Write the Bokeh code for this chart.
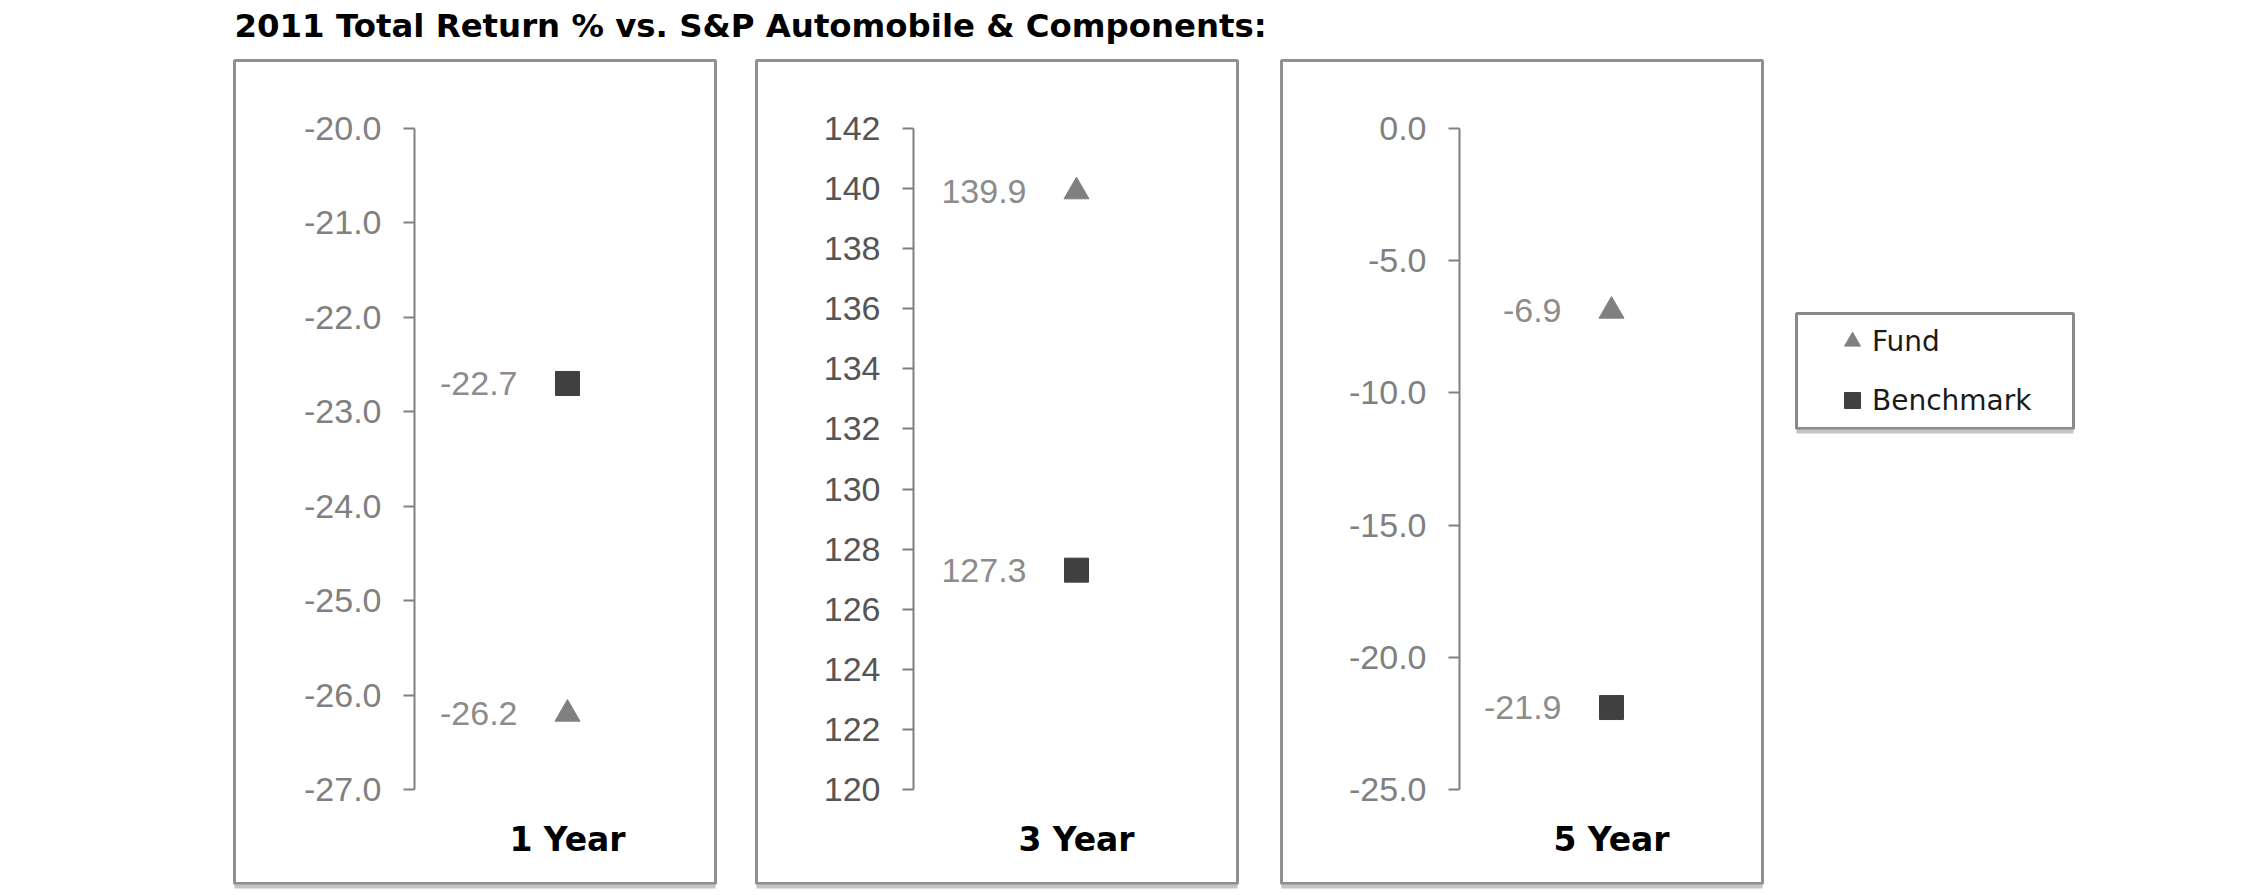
from bokeh.plotting import figure
from bokeh.models import (Range1d, LinearAxis, FixedTicker, NumeralTickFormatter,
                          ColumnDataSource, Legend, LegendItem, Label)
from bokeh.core.properties import value
from bokeh.embed import file_html
from bokeh.resources import INLINE

# ---------------- data ----------------
periods = ["1 Year", "3 Year", "5 Year"]
fund = [-26.2, 139.9, -6.9]
benchmark = [-22.7, 127.3, -21.9]
axis_min = [-27.0, 120.0, -25.0]
axis_max = [-20.0, 142.0, 0.0]
ticks_1y = [-27.0, -26.0, -25.0, -24.0, -23.0, -22.0, -21.0, -20.0]
ticks_3y = [120, 122, 124, 126, 128, 130, 132, 134, 136, 138, 140, 142]
ticks_5y = [-25.0, -20.0, -15.0, -10.0, -5.0, 0.0]
tick_formats = ["0.0", "0", "0.0"]
title_text = "2011 Total Return % vs. S&P Automobile & Components:"
legend_labels = ["Fund", "Benchmark"]

# ---------------- layout (canvas pixels) ----------------
W, H = 2242, 893
box_left = [234, 756, 1281]
box_right = [715, 1237, 1762]
box_top, box_bottom = 60, 883
axis_x = [414, 913, 1459]
slot_x = [567, 1076, 1611]
plot_top, plot_bottom = 128, 789
leg_box = dict(left=1796, right=2073, top=313, bottom=428)
NUM_FONT = "Liberation Sans"

tick_sets = [ticks_1y, ticks_3y, ticks_5y]
tick_colors = ["#808080", "#555555", "#808080"]

p = figure(width=W, height=H, x_range=Range1d(0, W), y_range=Range1d(H, 0),
           x_axis_type=None, y_axis_type=None, toolbar_location=None,
           output_backend="svg", min_border=0, outline_line_color=None,
           background_fill_color="white", border_fill_color="white")

# panel frames
p.quad(left=box_left, right=box_right, top=[box_top] * 3, bottom=[box_bottom] * 3,
       fill_color=None, line_color="#909090", line_width=3)
p.segment(x0=box_left, x1=box_right, y0=[box_bottom + 3] * 3, y1=[box_bottom + 3] * 3,
          line_color="#c4c4c4", line_width=4)

fund_renderers, bench_renderers = [], []
for i in range(3):
    lo, hi = axis_min[i], axis_max[i]
    ppu = (plot_bottom - plot_top) / (hi - lo)
    rname = f"r{i}"
    p.extra_y_ranges[rname] = Range1d(start=hi - (H - plot_top) / ppu,
                                      end=hi + plot_top / ppu)
    ax = LinearAxis(y_range_name=rname, fixed_location=axis_x[i], bounds=(lo, hi),
                    ticker=FixedTicker(ticks=tick_sets[i]),
                    formatter=NumeralTickFormatter(format=tick_formats[i]),
                    axis_line_color="#808080", axis_line_width=2,
                    major_tick_line_color="#808080", major_tick_line_width=2,
                    major_tick_in=0, major_tick_out=11,
                    minor_tick_line_color=None, major_label_standoff=22,
                    major_label_text_font=NUM_FONT,
                    major_label_text_font_size="34px",
                    major_label_text_color=tick_colors[i])
    p.add_layout(ax, "left")

    src = ColumnDataSource(dict(x=[slot_x[i]], fund=[fund[i]], bench=[benchmark[i]],
                                flab=[f"{fund[i]:.1f}"], blab=[f"{benchmark[i]:.1f}"]))
    rf = p.scatter("x", "fund", source=src, marker="triangle", size=25,
                   fill_color="#808080", line_color="#808080", y_range_name=rname)
    rb = p.scatter("x", "bench", source=src, marker="square", size=24,
                   fill_color="#404040", line_color="#404040", y_range_name=rname)
    fund_renderers.append(rf)
    bench_renderers.append(rb)
    for col, lab in (("fund", "flab"), ("bench", "blab")):
        p.text("x", col, text=lab, source=src, x_offset=-50, text_align="right",
               text_baseline="middle", text_font=value(NUM_FONT),
               text_font_size="34px", text_color="#8c8c8c", y_range_name=rname)

# category labels
p.text(x=slot_x, y=[839] * 3, text=periods, text_font=value("DejaVu Sans"),
       text_font_style="bold", text_font_size="33px", text_align="center",
       text_baseline="alphabetic", text_color="#000000")

# title
p.add_layout(Label(x=234, y=25, text=title_text, text_font="DejaVu Sans",
                   text_font_style="bold", text_font_size="32.4px",
                   text_color="#000000", text_baseline="alphabetic"))

# legend box
p.quad(left=[leg_box["left"]], right=[leg_box["right"]], top=[leg_box["top"]],
       bottom=[leg_box["bottom"]], fill_color="white", line_color="#8a8a8a", line_width=3)
p.segment(x0=[leg_box["left"]], x1=[leg_box["right"]], y0=[leg_box["bottom"] + 3],
          y1=[leg_box["bottom"] + 3], line_color="#c4c4c4", line_width=4)

legend = Legend(items=[LegendItem(label=legend_labels[0], renderers=[fund_renderers[0]]),
                       LegendItem(label=legend_labels[1], renderers=[bench_renderers[0]])],
                location=(1832, H - 420), padding=0, margin=0, spacing=19,
                glyph_width=40, glyph_height=40, label_standoff=0,
                label_text_font="DejaVu Sans", label_text_font_size="28px",
                label_text_color="#1a1a1a", border_line_color=None,
                background_fill_alpha=0)
p.add_layout(legend)

open("out.html", "w").write(file_html(p, INLINE))
